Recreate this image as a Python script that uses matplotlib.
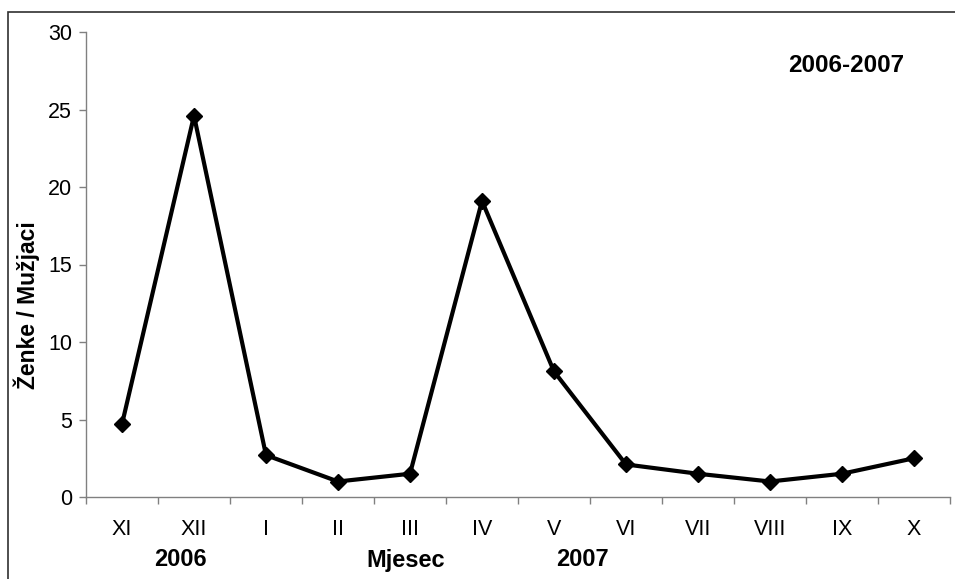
import matplotlib
matplotlib.use("Agg")
import matplotlib.pyplot as plt
from matplotlib.patches import Rectangle
from matplotlib.ticker import FixedLocator

plt.rcParams['font.family'] = ['Liberation Sans', 'DejaVu Sans']

months = ['XI', 'XII', 'I', 'II', 'III', 'IV', 'V', 'VI', 'VII', 'VIII', 'IX', 'X']
ratio = [4.7, 24.6, 2.7, 1.0, 1.5, 19.1, 8.1, 2.1, 1.5, 1.0, 1.5, 2.5]
yticks = [0, 5, 10, 15, 20, 25, 30]

W, H = 955, 579
fig = plt.figure(figsize=(W/100, H/100), dpi=100)
ax = fig.add_axes([86/W, 1-497/H, (950-86)/W, (497-32)/H])

x = list(range(len(months)))
ax.plot(x, ratio, color='black', lw=3, marker='D', ms=8, mfc='black', mec='black', clip_on=False, zorder=3)

ax.set_xlim(-0.5, len(months)-0.5)
ax.set_ylim(0, 30)
ax.set_yticks(yticks)
ax.set_xticks(x)
ax.set_xticklabels(months)
ax.xaxis.set_minor_locator(FixedLocator([i-0.5 for i in range(len(months)+1)]))
ax.tick_params(axis='x', which='major', length=0, pad=16, labelsize=15.5)
ax.tick_params(axis='x', which='minor', length=5, width=1, color='#808080', direction='out')
ax.tick_params(axis='y', length=5, width=1, color='#808080', direction='out', labelsize=15.5, pad=5)
for s in ['top', 'right']:
    ax.spines[s].set_visible(False)
for s in ['left', 'bottom']:
    ax.spines[s].set_color('#808080')
    ax.spines[s].set_linewidth(1)

fig.text(27/W, 1-305/H, 'Ženke / Mužjaci', rotation=90, ha='center', va='center',
         fontsize=16.5, fontweight='bold')

fig.text(846/W, 1-66/H, '2006-2007', ha='center', va='center', fontsize=17.5, fontweight='bold')
fig.text(180/W, 1-560/H, '2006', ha='center', va='center', fontsize=17, fontweight='bold')
fig.text(406/W, 1-560/H, 'Mjesec', ha='center', va='center', fontsize=17, fontweight='bold')
fig.text(582/W, 1-560/H, '2007', ha='center', va='center', fontsize=17, fontweight='bold')

fig.patches.append(Rectangle((8/W, -0.1), 2, 1.1 - 12/H, transform=fig.transFigure,
                             fill=False, edgecolor='#303030', lw=1.2))

fig.savefig('out.png', dpi=100)
